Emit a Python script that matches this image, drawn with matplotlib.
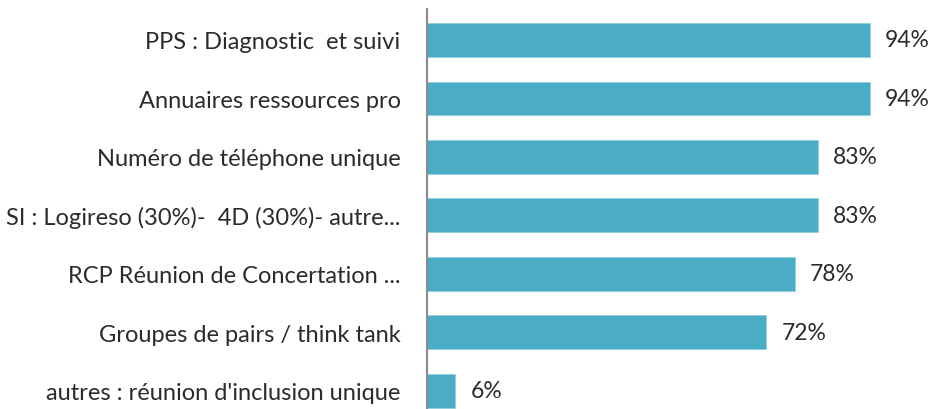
import matplotlib
matplotlib.use("Agg")
import matplotlib.pyplot as plt

categories = [
    "PPS : Diagnostic  et suivi",
    "Annuaires ressources pro",
    "Numéro de téléphone unique",
    "SI : Logireso (30%)-  4D (30%)- autre...",
    "RCP Réunion de Concertation ...",
    "Groupes de pairs / think tank",
    "autres : réunion d'inclusion unique",
]
values = [94, 94, 83, 83, 78, 72, 6]
labels = ["94%", "94%", "83%", "83%", "78%", "72%", "6%"]

W, H = 936, 410
fig = plt.figure(figsize=(W / 100, H / 100), dpi=100)
ax = fig.add_axes([427 / W, 0, 509 / W, 400 / H])

bar_color = "#4BACC6"
text_color = "#2b2b2b"
font = "Lato"

y = list(range(len(categories)))
ax.barh(y, values, height=0.58, color=bar_color, edgecolor="#8fd0e0", linewidth=0.6)
ax.set_xlim(0, 108)
ax.set_ylim(6.31, -0.53)

for yi, v, lab in zip(y, values, labels):
    ax.annotate(lab, (v, yi), xytext=(15, 0), textcoords="offset pixels",
                ha="left", va="center", fontsize=16.5, color=text_color, family=font)

ax.set_yticks(y)
ax.set_yticklabels(categories, fontsize=17, color=text_color, family=font)
ax.tick_params(axis="y", length=0, pad=19)
ax.set_xticks([])
for s in ["top", "right", "bottom"]:
    ax.spines[s].set_visible(False)
ax.spines["left"].set_color("#8c8c8c")
ax.spines["left"].set_linewidth(1.5)

fig.savefig("out.png", dpi=100, facecolor="white")
